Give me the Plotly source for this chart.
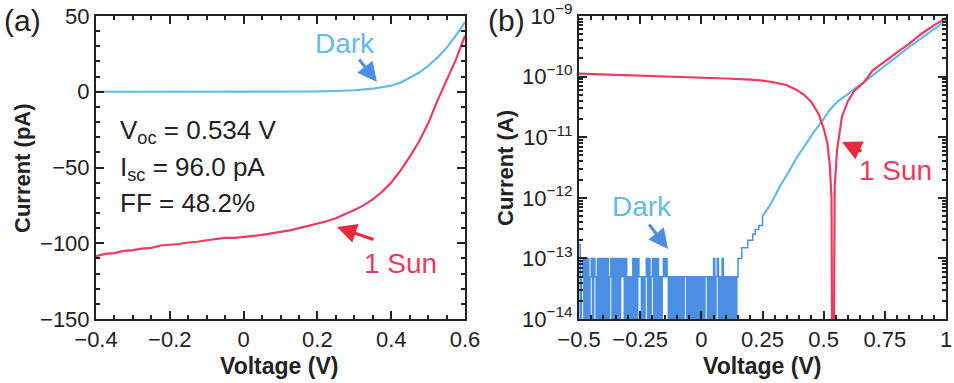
import plotly.graph_objects as go

# ---- panel (a): linear I-V, current in pA ----
v_sun_a = [-0.4, -0.375, -0.35, -0.325, -0.3, -0.275, -0.25, -0.225, -0.2, -0.175,
           -0.15, -0.125, -0.1, -0.075, -0.05, -0.025, 0.0, 0.025, 0.05, 0.075,
           0.1, 0.125, 0.15, 0.175, 0.2, 0.225, 0.25, 0.275, 0.3, 0.325,
           0.35, 0.375, 0.4, 0.425, 0.45, 0.475, 0.5, 0.525, 0.55, 0.575, 0.6]
i_sun_a = [-108.5, -107, -106.5, -105, -104.5, -103.5, -103, -101.5, -101, -100.5,
           -99.5, -99, -98, -97.5, -96.5, -96.5, -96, -95, -94.5, -93.5,
           -92.5, -91.5, -90, -88.5, -87, -85.5, -83.5, -81, -78, -75,
           -71, -66, -60, -52, -43, -33, -21, -6, 8, 21, 37]

v_dark_a = [-0.4, -0.2, 0.0, 0.2, 0.25, 0.3, 0.35, 0.4, 0.425, 0.45, 0.475, 0.5,
            0.525, 0.55, 0.575, 0.6]
i_dark_a = [0, 0, 0, 0.2, 0.5, 1, 2, 4, 6, 9, 12.5, 17, 22.5, 29, 37, 46]

# ---- panel (b): |I| on log scale, current in A ----
v_sun_b = [-0.5, -0.4, -0.3, -0.2, -0.1, 0.0, 0.1, 0.2, 0.25, 0.3, 0.35, 0.39,
           0.42, 0.45, 0.48, 0.5, 0.515, 0.525, 0.532, 0.536, 0.54, 0.545, 0.555,
           0.575, 0.6, 0.625, 0.664, 0.7, 0.75, 0.8, 0.85, 0.9, 0.95, 1.0]
i_sun_b = [1.12e-10, 1.09e-10, 1.06e-10, 1.02e-10, 9.9e-11, 9.6e-11, 9.3e-11, 8.9e-11,
           8.6e-11, 8.0e-11, 7.2e-11, 6.0e-11, 5.0e-11, 3.8e-11, 2.4e-11, 1.4e-11,
           8e-12, 3.5e-12, 1e-12, 1e-16, 1e-16, 1.5e-12, 6.3e-12, 2.2e-11, 4e-11,
           5.8e-11, 8e-11, 1.26e-10, 1.8e-10, 2.5e-10, 3.5e-10, 5.1e-10, 7e-10, 9.3e-10]

# dark current below 0.15 V sits at the instrument floor: one code per sweep step
# S = spike, H = 1e-13, M = 5e-14, Z = at/below zero (off the log axis)
noise_start = -0.5
noise_step = 0.005
noise_codes = ("SZMHZHZHZM" "HZHMZHZHZH" "ZHZHZMHZHZ" "HZHZHMHZHZ" "MZMZHZHZHM"
               "MZMZMHZHZM" "HZHZHZMZMH" "MHMZMZMZMZ" "MZMZMZMMZM" "ZMZMZMZMZM"
               "ZMZMMZMZMZ" "HZMHZMZHZM" "ZMZMZMZMZM")
noise_levels = {"S": 1.7e-13, "H": 1e-13, "M": 5e-14, "Z": 1e-16}

v_step_b = [0.15, 0.165, 0.18, 0.19, 0.2, 0.21, 0.22, 0.235, 0.25]
i_step_b = [1e-13, 1.5e-13, 1.5e-13, 2e-13, 2e-13, 2.5e-13, 3e-13, 3.5e-13, 5e-13]

v_dark_b = [0.25, 0.275, 0.3, 0.323, 0.35, 0.39, 0.42, 0.459, 0.5, 0.527, 0.56,
            0.595, 0.63, 0.664, 0.7, 0.75, 0.8, 0.85, 0.9, 0.95, 1.0]
i_dark_b = [5e-13, 7e-13, 1.05e-12, 1.6e-12, 2.4e-12, 4.6e-12, 7e-12, 1.2e-11, 2e-11,
            2.9e-11, 4e-11, 5e-11, 6.5e-11, 8e-11, 1.05e-10, 1.5e-10, 2.2e-10, 3.1e-10,
            4.3e-10, 6e-10, 8.5e-10]

decades = [-14, -13, -12, -11, -10, -9]

RED = "#ee3a5e"
BLUE = "#62bbea"
BLUE_DK = "#4a8fe4"
FONT = "Liberation Sans, Arial, sans-serif"
W, H = 954, 383


def px(x):
    return x / W


def py(y):
    return 1 - y / H


noise_v = [noise_start + noise_step * k for k in range(len(noise_codes))]
noise_i = [noise_levels[c] for c in noise_codes]

fig = go.Figure()
fig.add_trace(go.Scatter(x=v_dark_a, y=i_dark_a, mode="lines", line=dict(color=BLUE, width=2.2),
                         xaxis="x", yaxis="y"))
fig.add_trace(go.Scatter(x=v_sun_a, y=i_sun_a, mode="lines", line=dict(color=RED, width=2.2),
                         xaxis="x", yaxis="y"))
fig.add_trace(go.Scatter(x=noise_v + v_step_b, y=noise_i + i_step_b, mode="lines",
                         line=dict(color=BLUE_DK, width=1.5, shape="hv"),
                         xaxis="x2", yaxis="y2"))
fig.add_trace(go.Scatter(x=v_dark_b, y=i_dark_b, mode="lines", line=dict(color=BLUE, width=2.2),
                         xaxis="x2", yaxis="y2"))
fig.add_trace(go.Scatter(x=v_sun_b, y=i_sun_b, mode="lines", line=dict(color=RED, width=2.2),
                         xaxis="x2", yaxis="y2"))

axis_common = dict(showline=True, linecolor="#222", linewidth=2, mirror="ticks",
                   ticks="inside", ticklen=8, tickwidth=2, tickcolor="#222",
                   showgrid=False, zeroline=False, automargin=False,
                   tickfont=dict(family=FONT, size=22, color="#222"))
minor_common = dict(ticks="inside", ticklen=4, tickwidth=1.5, tickcolor="#222")

fig.update_layout(
    width=W, height=H, showlegend=False,
    margin=dict(l=0, r=0, t=0, b=0),
    plot_bgcolor="white", paper_bgcolor="white",
    xaxis=dict(domain=[px(96), px(465)], range=[-0.4, 0.6], dtick=0.2,
               minor=dict(dtick=0.05, **minor_common), anchor="y", **axis_common),
    yaxis=dict(domain=[py(319), py(16)], range=[-150, 50], dtick=50,
               minor=dict(dtick=10, **minor_common), anchor="x", **axis_common),
    xaxis2=dict(domain=[px(579), px(946)], range=[-0.5, 1.0], dtick=0.25,
                minor=dict(dtick=0.05, **minor_common), anchor="y2", **axis_common),
    yaxis2=dict(domain=[py(319), py(16)], type="log", range=[-14, -9],
                tickmode="array", tickvals=[10.0 ** d for d in decades],
                ticktext=["10<sup>\u2212%d</sup>" % -d for d in decades],
                minor=dict(dtick="D1", **minor_common), anchor="x2", **axis_common),
)

ann = []


def text(x, y, s, size, color="#222", bold=False, angle=0, xanchor="center"):
    if bold:
        s = "<b>%s</b>" % s
    ann.append(dict(x=px(x), y=py(y), xref="paper", yref="paper", text=s, showarrow=False,
                    textangle=angle, xanchor=xanchor, yanchor="middle",
                    font=dict(family=FONT, size=size, color=color)))


def arrow(x, y, ax, ay, color):
    ann.append(dict(x=px(x), y=py(y), xref="paper", yref="paper", text="", showarrow=True,
                    ax=ax, ay=ay, arrowhead=2, arrowsize=1.3, arrowwidth=3, arrowcolor=color))


text(22, 20, "(a)", 30)
text(506, 20, "(b)", 30)
text(22, 168, "Current (pA)", 22, bold=True, angle=-90)
text(505, 168, "Current (A)", 22, bold=True, angle=-90)
text(279, 366, "Voltage (V)", 23, bold=True)
text(762, 366, "Voltage (V)", 23, bold=True)

text(118, 131, "V<sub>oc</sub> = 0.534 V", 26, xanchor="left")
text(118, 168, "I<sub>sc</sub> = 96.0 pA", 26, xanchor="left")
text(118, 203, "FF = 48.2%", 26, xanchor="left")

text(345, 43, "Dark", 28, color=BLUE)
arrow(377, 82, -19, -24, BLUE_DK)
text(400, 263, "1 Sun", 28, color=RED)
arrow(337, 227, 38, 13, "#e8283c")

text(895, 170, "1 Sun", 28, color=RED)
arrow(842, 142, 21, 10, "#e8283c")
text(642, 206, "Dark", 28, color=BLUE)
arrow(668, 249, -20, -26, BLUE_DK)

fig.update_layout(annotations=ann)
fig.write_html("out.html", config={"displayModeBar": False},
               post_script="document.body.style.margin='0';")
